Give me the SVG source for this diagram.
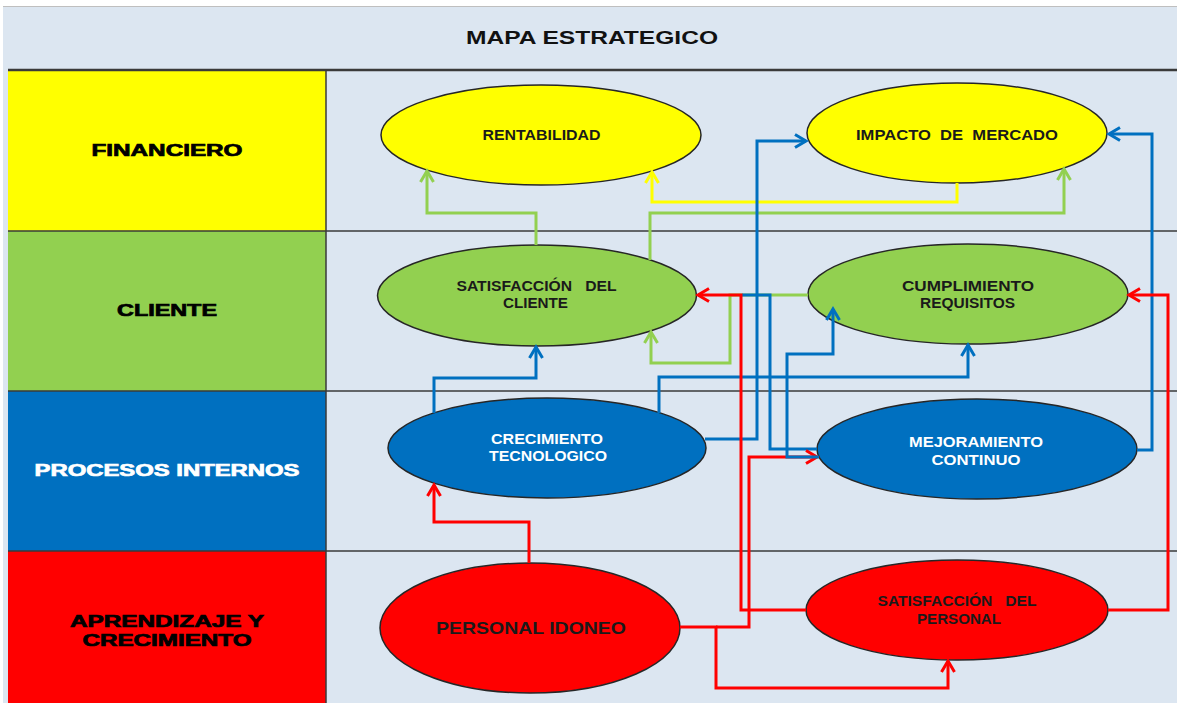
<svg xmlns="http://www.w3.org/2000/svg" width="1177" height="703" viewBox="0 0 1177 703">
<defs>
<style>
.lbl{font-family:"Liberation Sans",Arial,sans-serif;font-weight:bold;font-size:16px;text-anchor:middle;stroke-width:0.7}
.nt{font-family:"Liberation Sans",Arial,sans-serif;font-weight:bold;font-size:14px;text-anchor:middle;fill:#1a1a1a}
.nw{fill:#ffffff}
.el{stroke:#262626;stroke-width:1.5}
.grid{stroke:#3a3a3a;stroke-width:1.5;fill:none}
.c{fill:none;stroke-width:3;stroke-linejoin:miter}
.g{stroke:#92D050}
.y{stroke:#FFFF00}
.b{stroke:#0070C0}
.r{stroke:#FF0000}
</style>
<marker id="ag" markerUnits="userSpaceOnUse" viewBox="-15 -10 20 20" markerWidth="20" markerHeight="20" refX="0" refY="0" orient="auto" overflow="visible"><path d="M-11,-6.5 L0,0 L-11,6.5" fill="none" stroke="#92D050" stroke-width="3"/></marker>
<marker id="ay" markerUnits="userSpaceOnUse" viewBox="-15 -10 20 20" markerWidth="20" markerHeight="20" refX="0" refY="0" orient="auto" overflow="visible"><path d="M-11,-6.5 L0,0 L-11,6.5" fill="none" stroke="#FFFF00" stroke-width="3"/></marker>
<marker id="ab" markerUnits="userSpaceOnUse" viewBox="-15 -10 20 20" markerWidth="20" markerHeight="20" refX="0" refY="0" orient="auto" overflow="visible"><path d="M-11,-6.5 L0,0 L-11,6.5" fill="none" stroke="#0070C0" stroke-width="3"/></marker>
<marker id="ar" markerUnits="userSpaceOnUse" viewBox="-15 -10 20 20" markerWidth="20" markerHeight="20" refX="0" refY="0" orient="auto" overflow="visible"><path d="M-11,-6.5 L0,0 L-11,6.5" fill="none" stroke="#FF0000" stroke-width="3"/></marker>
</defs>
<rect x="0" y="0" width="1177" height="703" fill="#ffffff"/>
<rect x="3" y="6" width="1174" height="697" fill="#DCE6F1"/>
<line x1="3" y1="6.5" x2="1177" y2="6.5" stroke="#bfbfbf" stroke-width="1"/>
<g id="title">
<text x="592" y="44" font-family="'Liberation Sans',Arial,sans-serif" font-weight="bold" font-size="19" text-anchor="middle" fill="#111" textLength="252" lengthAdjust="spacingAndGlyphs">MAPA ESTRATEGICO</text>
</g>
<g id="rows">
<rect x="8" y="70" width="318" height="161" fill="#FFFF00"/>
<rect x="8" y="231" width="318" height="160" fill="#92D050"/>
<rect x="8" y="391" width="318" height="160" fill="#0070C0"/>
<rect x="8" y="551" width="318" height="152" fill="#FF0000"/>
<line x1="8" y1="70" x2="1177" y2="70" stroke="#3a3a3a" stroke-width="2.5"/>
<line class="grid" x1="8" y1="231" x2="1177" y2="231"/>
<line class="grid" x1="8" y1="391" x2="1177" y2="391"/>
<line class="grid" x1="8" y1="551" x2="1177" y2="551"/>
<line class="grid" x1="326" y1="70" x2="326" y2="703"/>
<text class="lbl" x="167" y="156" fill="#000" stroke="#000" textLength="151" lengthAdjust="spacingAndGlyphs">FINANCIERO</text>
<text class="lbl" x="167" y="316" fill="#000" stroke="#000" textLength="100" lengthAdjust="spacingAndGlyphs">CLIENTE</text>
<text class="lbl" x="167" y="476" fill="#fff" stroke="#fff" textLength="265" lengthAdjust="spacingAndGlyphs">PROCESOS INTERNOS</text>
<text class="lbl" x="167" y="627" fill="#000" stroke="#000" textLength="194" lengthAdjust="spacingAndGlyphs">APRENDIZAJE Y</text>
<text class="lbl" x="167" y="646" fill="#000" stroke="#000" textLength="169" lengthAdjust="spacingAndGlyphs">CRECIMIENTO</text>
</g>
<g id="rentabilidad">
<ellipse class="el" cx="541" cy="135" rx="160" ry="50" fill="#FFFF00"/>
<text class="nt" x="541.5" y="139.5" textLength="118" lengthAdjust="spacingAndGlyphs">RENTABILIDAD</text>
</g>
<g id="impacto">
<ellipse class="el" cx="957" cy="133" rx="150" ry="50" fill="#FFFF00"/>
<text class="nt" x="957" y="139.5" textLength="202" lengthAdjust="spacingAndGlyphs" xml:space="preserve">IMPACTO  DE  MERCADO</text>
</g>
<g id="satisfaccion-cliente">
<ellipse class="el" cx="537" cy="295.5" rx="159.5" ry="50.5" fill="#92D050"/>
<text class="nt" x="536.5" y="291" textLength="160" lengthAdjust="spacingAndGlyphs" xml:space="preserve">SATISFACCIÓN   DEL</text>
<text class="nt" x="535.5" y="308" textLength="65" lengthAdjust="spacingAndGlyphs">CLIENTE</text>
</g>
<g id="cumplimiento">
<ellipse class="el" cx="968" cy="294" rx="160" ry="50" fill="#92D050"/>
<text class="nt" x="968" y="290.5" textLength="132" lengthAdjust="spacingAndGlyphs">CUMPLIMIENTO</text>
<text class="nt" x="967.5" y="308" textLength="95" lengthAdjust="spacingAndGlyphs">REQUISITOS</text>
</g>
<g id="crecimiento">
<ellipse class="el" cx="547" cy="448" rx="159" ry="50" fill="#0070C0"/>
<text class="nt nw" x="547" y="443.5" textLength="112" lengthAdjust="spacingAndGlyphs">CRECIMIENTO</text>
<text class="nt nw" x="548" y="461" textLength="118" lengthAdjust="spacingAndGlyphs">TECNOLOGICO</text>
</g>
<g id="mejoramiento">
<ellipse class="el" cx="977" cy="449" rx="160" ry="50" fill="#0070C0"/>
<text class="nt nw" x="976" y="447" textLength="134" lengthAdjust="spacingAndGlyphs">MEJORAMIENTO</text>
<text class="nt nw" x="976" y="464.5" textLength="89" lengthAdjust="spacingAndGlyphs">CONTINUO</text>
</g>
<g id="personal-idoneo">
<ellipse class="el" cx="530" cy="628" rx="150" ry="65" fill="#FF0000"/>
<text class="nt" x="531" y="634" textLength="190" lengthAdjust="spacingAndGlyphs" style="font-size:17px">PERSONAL IDONEO</text>
</g>
<g id="satisfaccion-personal">
<ellipse class="el" cx="957" cy="610" rx="151" ry="50" fill="#FF0000"/>
<text class="nt" x="957" y="606" textLength="159" lengthAdjust="spacingAndGlyphs" xml:space="preserve">SATISFACCIÓN   DEL</text>
<text class="nt" x="959" y="623.5" textLength="84" lengthAdjust="spacingAndGlyphs">PERSONAL</text>
</g>
<g id="connectors">
<polyline class="c g" points="536,245 536,213 427,213 427,171" marker-end="url(#ag)"/>
<polyline class="c g" points="650,260 650,213 1064,213 1064,169" marker-end="url(#ag)"/>
<polyline class="c g" points="808,295 730,295 730,363 651,363 651,332" marker-end="url(#ag)"/>
<polyline class="c y" points="957,183 957,202 652,202 652,172" marker-end="url(#ay)"/>
<polyline class="c b" points="434,413 434,378 536,378 536,347" marker-end="url(#ab)"/>
<polyline class="c b" points="659,413 659,377 968,377 968,345" marker-end="url(#ab)"/>
<polyline class="c b" points="705,439 757,439 757,141 806,141" marker-end="url(#ab)"/>
<polyline class="c b" points="1137,450 1152,450 1152,134 1109,134" marker-end="url(#ab)"/>
<polyline class="c b" points="817,449 770,449 770,295 742,295"/>
<polyline class="c r" points="529,563 529,522 434,522 434,485" marker-end="url(#ar)"/>
<polyline class="c r" points="680,627 716,627 716,688 948,688 948,661" marker-end="url(#ar)"/>
<polyline class="c r" points="716,627 749,627 749,457 817,457" marker-end="url(#ar)"/>
<polyline class="c r" points="806,610 741,610 741,295 698,295" marker-end="url(#ar)"/>
<polyline class="c r" points="1108,610 1168,610 1168,295 1129,295" marker-end="url(#ar)"/>
<polyline class="c b" points="819,457 787,457 787,354 833,354 833,309" marker-end="url(#ab)"/>
</g>
</svg>
